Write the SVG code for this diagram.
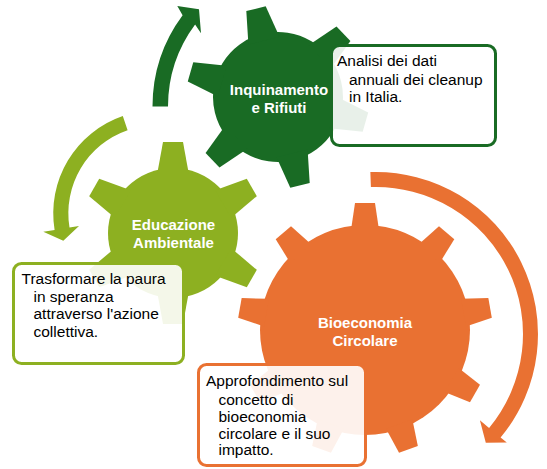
<svg xmlns="http://www.w3.org/2000/svg" xmlns:xlink="http://www.w3.org/1999/xlink" width="547" height="469" viewBox="0 0 547 469">
  <style>
    .lbl { font-family: "Liberation Sans", Arial, sans-serif; font-size: 15px; font-weight: bold; fill: #ffffff; text-anchor: middle; }
    .txt { font-family: "Liberation Sans", Arial, sans-serif; font-size: 15.5px; fill: #000000; }
    .box { fill: #ffffff; fill-opacity: 0.9; stroke-width: 3; }
    .dg { fill: #196B24; }
    .lg { fill: #8DB021; }
    .or { fill: #E97132; }
  </style>
  <defs>
    <g id="gear6">
      <circle r="65"/>
      <polygon points="-16,-58 -10,-91 10,-91 16,-58"/>
      <polygon points="-16,-58 -10,-91 10,-91 16,-58" transform="rotate(60)"/>
      <polygon points="-16,-58 -10,-91 10,-91 16,-58" transform="rotate(120)"/>
      <polygon points="-16,-58 -10,-91 10,-91 16,-58" transform="rotate(180)"/>
      <polygon points="-16,-58 -10,-91 10,-91 16,-58" transform="rotate(240)"/>
      <polygon points="-16,-58 -10,-91 10,-91 16,-58" transform="rotate(300)"/>
    </g>
    <g id="gear9">
      <circle r="105"/>
      <polygon points="-14,-100 -10,-127 10,-127 14,-100"/>
      <polygon points="-14,-100 -10,-127 10,-127 14,-100" transform="rotate(40)"/>
      <polygon points="-14,-100 -10,-127 10,-127 14,-100" transform="rotate(80)"/>
      <polygon points="-14,-100 -10,-127 10,-127 14,-100" transform="rotate(120)"/>
      <polygon points="-14,-100 -10,-127 10,-127 14,-100" transform="rotate(160)"/>
      <polygon points="-14,-100 -10,-127 10,-127 14,-100" transform="rotate(200)"/>
      <polygon points="-14,-100 -10,-127 10,-127 14,-100" transform="rotate(240)"/>
      <polygon points="-14,-100 -10,-127 10,-127 14,-100" transform="rotate(280)"/>
      <polygon points="-14,-100 -10,-127 10,-127 14,-100" transform="rotate(320)"/>
    </g>
  </defs>

  <g id="node-inquinamento">
    <use xlink:href="#gear6" href="#gear6" class="dg" transform="translate(278,97) rotate(-14)"/>
    <text class="lbl" x="279" y="94.5">Inquinamento</text>
    <text class="lbl" x="279" y="112.5">e Rifiuti</text>
  </g>

  <g id="node-educazione">
    <use xlink:href="#gear6" href="#gear6" class="lg" transform="translate(173,233)"/>
    <text class="lbl" x="173.5" y="229.5">Educazione</text>
    <text class="lbl" x="173.5" y="247.5">Ambientale</text>
  </g>

  <g id="node-bioeconomia">
    <use xlink:href="#gear9" href="#gear9" class="or" transform="translate(365,330)"/>
    <text class="lbl" x="365" y="327.5">Bioeconomia</text>
    <text class="lbl" x="365" y="345.5">Circolare</text>
  </g>

  <g id="connectors">
    <path class="dg" d="M 152.5,106.5 A 153.5 153.5 0 0 1 182.6,15.2 L 177.3,6 L 199,9.3 L 201,33.3 L 195.1,24.4 A 138 138 0 0 0 168,106.5 Z"/>
    <path class="lg" d="M 122.8,116 A 103 103 0 0 0 54.6,230 L 43.3,231.7 L 63.3,240.7 L 79,226 L 69.5,227.6 A 88 88 0 0 1 127.6,130.2 Z"/>
    <path class="or" d="M 370.35,172.1 A 162 162 0 0 1 500.6,437.5 L 506.8,442.6 L 485.8,442.7 L 479.9,420.2 L 489.1,427.9 A 147 147 0 0 0 370.9,187.1 Z"/>
  </g>

  <g id="box-analisi">
    <rect class="box" x="331.5" y="45.5" width="164" height="100" rx="8" stroke="#196B24"/>
    <text class="txt" x="337" y="66">Analisi dei dati</text>
    <text class="txt" x="349" y="84.5">annuali dei cleanup</text>
    <text class="txt" x="349" y="102">in Italia.</text>
  </g>

  <g id="box-trasformare">
    <rect class="box" x="13.5" y="263.5" width="170" height="100" rx="8" stroke="#8DB021"/>
    <text class="txt" x="21.5" y="284">Trasformare la paura</text>
    <text class="txt" x="33.5" y="302">in speranza</text>
    <text class="txt" x="33.5" y="319">attraverso l'azione</text>
    <text class="txt" x="33.5" y="337">collettiva.</text>
  </g>

  <g id="box-approfondimento">
    <rect class="box" x="198.5" y="364.5" width="167" height="101" rx="8" stroke="#E97132"/>
    <text class="txt" x="206" y="386">Approfondimento sul</text>
    <text class="txt" x="218.5" y="404.5">concetto di</text>
    <text class="txt" x="218.5" y="421.5">bioeconomia</text>
    <text class="txt" x="218.5" y="438.5">circolare e il suo</text>
    <text class="txt" x="218.5" y="455">impatto.</text>
  </g>
</svg>
